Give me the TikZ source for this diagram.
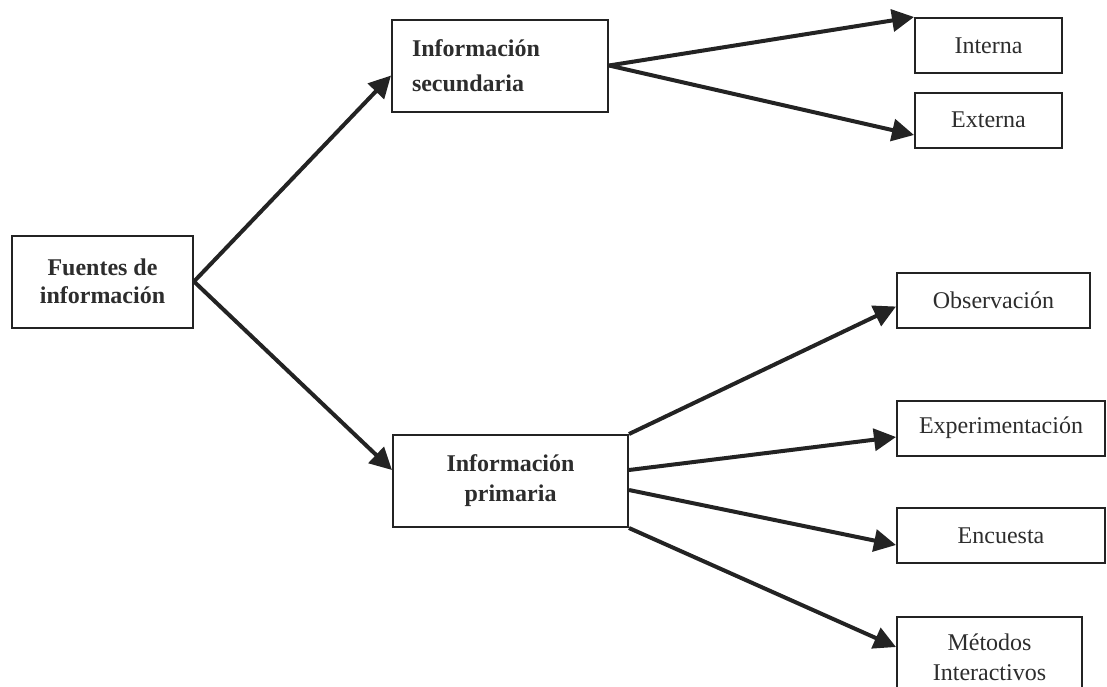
\documentclass[tikz,border=0pt]{standalone}
\usepackage{fontspec}
\setmainfont{Liberation Serif}
\usetikzlibrary{arrows.meta}
\definecolor{BoxLine}{RGB}{35,35,35}
\definecolor{TxtCol} {RGB}{45,45,45}
\tikzset{
  nd_main/.style={
    rectangle, draw=BoxLine, line width=1pt, fill=white,
    minimum width=#1, minimum height=46pt, inner sep=0pt,
    align=center, text=TxtCol,
    font=\fontsize{12}{14}\selectfont\bfseries},
  nd_leaf/.style={
    rectangle, draw=BoxLine, line width=1pt, fill=white,
    minimum width=#1, minimum height=27.5pt, inner sep=0pt,
    align=center, text=TxtCol,
    font=\fontsize{12}{15}\selectfont},
  arr/.style={-{Triangle[length=11pt,width=11pt]},line width=2pt,draw=BoxLine},
}
\begin{document}
\begin{tikzpicture}[x=0.5pt,y=-0.5pt]
\useasboundingbox (0,0) rectangle (1107,686);
\clip (0,0) rectangle (1107,686);

%% root
\node[nd_main={90.5pt}] at (102.5,281.5) (fue){Fuentes de\\información};

%% second level
\node[nd_main={108pt},align=left,text width=88pt] at (500,65.5) (sec){Información\\[3.5pt]secundaria};
\node[nd_main={117.5pt}] at (510.5,481) (pri){Información\\[1pt]primaria};

%% leaves
\node[nd_leaf={73.5pt}] at (988.5,45.5)  (int){Interna};
\node[nd_leaf={73.5pt}] at (988.5,120)   (ext){Externa};
\node[nd_leaf={96.5pt}] at (993.5,300.5) (obs){Observación};
\node[nd_leaf={104pt}]  at (1001,428)    (exp){Experimentación};
\node[nd_leaf={104pt}]  at (1001,535.5)  (enc){Encuesta};
\node[nd_leaf={92.5pt},minimum height=40pt] at (989.5,657) (met){Métodos\\Interactivos};

%% connectors
\draw[arr] (fue.east)--([yshift=-5pt]sec.west);
\draw[arr] (fue.east)--([yshift=5.5pt]pri.west);
\draw[arr] (sec.east)--(int.north west);
\draw[arr] (sec.east)--([yshift=-7.5pt]ext.west);
\draw[arr] (pri.north east)--([yshift=-3pt]obs.west);
\draw[arr] ([yshift=5.5pt]pri.east)--([yshift=-4.5pt]exp.west);
\draw[arr] ([yshift=-4.5pt]pri.east)--([yshift=-4.75pt]enc.west);
\draw[arr] (pri.south east)--([yshift=5pt]met.west);

\end{tikzpicture}
\end{document}
